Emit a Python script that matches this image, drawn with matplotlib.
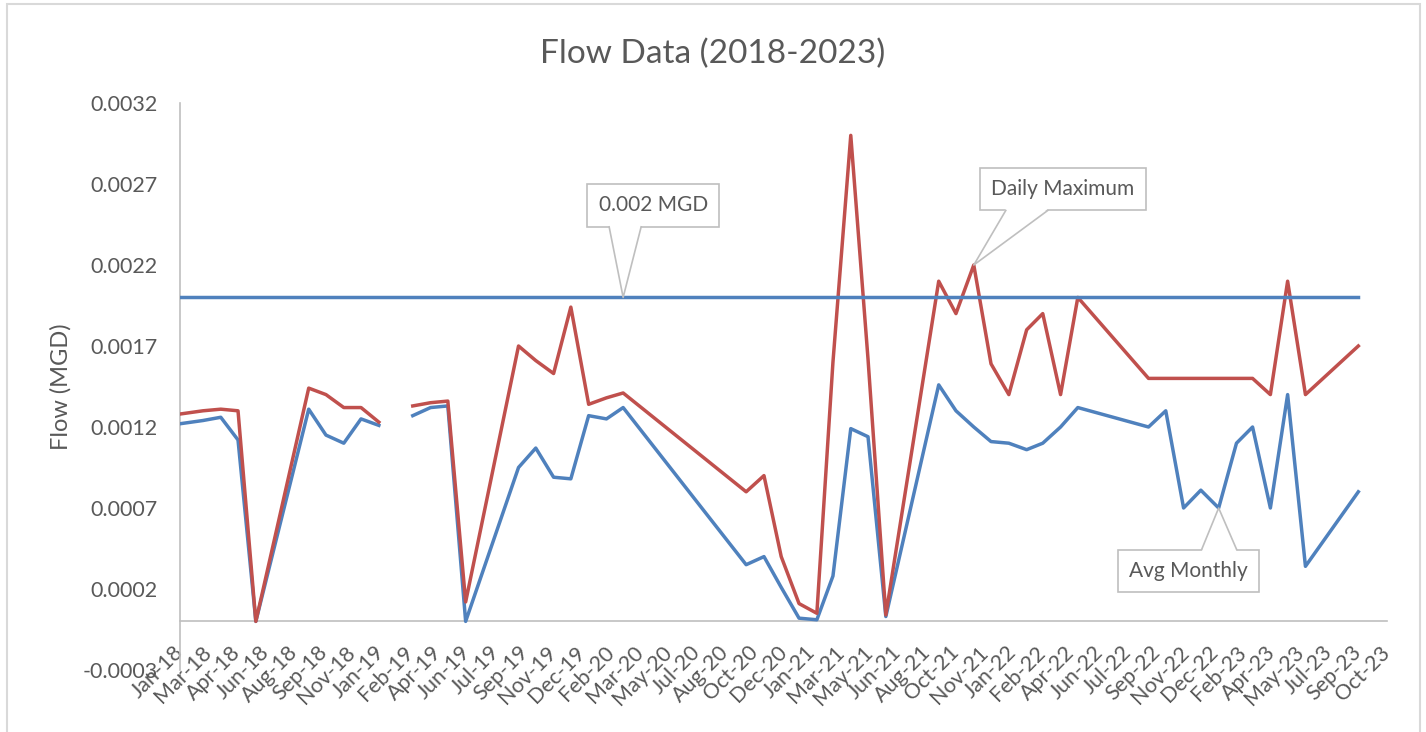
import matplotlib
matplotlib.use("Agg")
import matplotlib.pyplot as plt
import matplotlib.dates as mdates
from matplotlib.patches import Rectangle, Polygon
from matplotlib.lines import Line2D
from matplotlib.transforms import IdentityTransform
import numpy as np
import pandas as pd

plt.rcParams['font.family'] = ['Lato', 'DejaVu Sans']
plt.rcParams['axes.unicode_minus'] = False

# sample dates (rows of the flow table)
dates = [
    "2018-01-20", "2018-03-01", "2018-04-01", "2018-05-01", "2018-06-01",
    "2018-09-01", "2018-10-01", "2018-11-01", "2018-12-01", "2019-01-01",
    "2019-02-01", "2019-03-01", "2019-04-01", "2019-05-01", "2019-06-01",
    "2019-09-01", "2019-10-01", "2019-11-01", "2019-12-01", "2020-01-01",
    "2020-02-01", "2020-03-01", "2020-10-01", "2020-11-01", "2020-12-01",
    "2021-01-01", "2021-02-01", "2021-03-01", "2021-04-01", "2021-05-01",
    "2021-06-01", "2021-09-01", "2021-10-01", "2021-11-01", "2021-12-01",
    "2022-01-01", "2022-02-01", "2022-03-01", "2022-04-01", "2022-05-01",
    "2022-09-01", "2022-10-01", "2022-11-01", "2022-12-01", "2023-01-01",
    "2023-02-01", "2023-03-01", "2023-04-01", "2023-05-01", "2023-06-01",
    "2023-09-01",
]

avg_monthly = [
    0.00122, 0.00124, 0.00126, 0.00112, 0.0,
    0.00131, 0.00115, 0.00110, 0.00125, 0.00121,
    np.nan, 0.00127, 0.00132, 0.00133, 0.0,
    0.00095, 0.00107, 0.00089, 0.00088, 0.00127,
    0.00125, 0.00132, 0.00035, 0.00040, 0.00021,
    0.00002, 0.00001, 0.00028, 0.00119, 0.00114,
    0.00003, 0.00146, 0.00130, 0.00120, 0.00111,
    0.00110, 0.00106, 0.00110, 0.00120, 0.00132,
    0.00120, 0.00130, 0.00070, 0.00081, 0.00070,
    0.00110, 0.00120, 0.00070, 0.00140, 0.00034,
    0.00080,
]

daily_max = [
    0.00128, 0.00130, 0.00131, 0.00130, 0.0,
    0.00144, 0.00140, 0.00132, 0.00132, 0.00123,
    np.nan, 0.00133, 0.00135, 0.00136, 0.00012,
    0.00170, 0.00161, 0.00153, 0.00194, 0.00134,
    0.00138, 0.00141, 0.00080, 0.00090, 0.00040,
    0.00011, 0.00005, 0.00160, 0.00300, 0.00162,
    0.00004, 0.00210, 0.00190, 0.00220, 0.00159,
    0.00140, 0.00180, 0.00190, 0.00140, 0.00200,
    0.00150, 0.00150, 0.00150, 0.00150, 0.00150,
    0.00150, 0.00150, 0.00140, 0.00210, 0.00140,
    0.00170,
]

permit_limit = 0.002
limit_series = [permit_limit] * len(dates)

x = pd.to_datetime(dates)

BLUE = '#4F81BD'
RED = '#C0504D'
GREY_TXT = '#595959'
GREY_LINE = '#BFBFBF'

fig = plt.figure(figsize=(14.26, 7.32), dpi=100)
ax = fig.add_axes([0.1262, 0.0847, 0.8465, 0.7746])

ax.plot(x, avg_monthly, color=BLUE, lw=2.5, solid_joinstyle='round', zorder=3)
ax.plot(x, daily_max, color=RED, lw=2.5, solid_joinstyle='round', zorder=4)
ax.plot(x, limit_series, color=BLUE, lw=2.5, solid_joinstyle='round', zorder=5)

# axes ranges / ticks (date axis, 50 day major unit like the excel chart)
x0 = mdates.date2num(x[0])
xticks = np.arange(x0, x0 + 2101, 50)
ax.set_xlim(xticks[0], xticks[-1])
ax.set_xticks(xticks)
ax.xaxis.set_major_formatter(mdates.DateFormatter('%b-%y'))

ax.set_ylim(-0.0003, 0.0032)
yticks = np.arange(-0.0003, 0.00321, 0.0005)
ax.set_yticks(yticks)
ax.set_yticklabels(['{:.4f}'.format(v) for v in yticks])

for s in ['top', 'right']:
    ax.spines[s].set_visible(False)
ax.spines['left'].set_color(GREY_LINE)
ax.spines['left'].set_linewidth(1.2)
ax.spines['bottom'].set_position(('data', 0))
ax.spines['bottom'].set_color(GREY_LINE)
ax.spines['bottom'].set_linewidth(1.2)

ax.tick_params(axis='y', length=0, pad=16, labelsize=15.5, labelcolor=GREY_TXT)
ax.tick_params(axis='x', length=0, pad=20, labelsize=15.5, labelcolor=GREY_TXT)
for lbl in ax.get_xticklabels():
    lbl.set_rotation(45)
    lbl.set_ha('right')
    lbl.set_va('center')
    lbl.set_rotation_mode('anchor')

ax.set_ylabel("Flow (MGD)", fontsize=17, color=GREY_TXT)
ax.yaxis.set_label_coords(-0.0895, 0.5)

fig.text(0.5, 0.927, "Flow Data (2018-2023)", ha='center', va='center',
         fontsize=24, color=GREY_TXT)

# callout labels: (text, x, y, box offset px, wedge base x offsets px)
box = dict(boxstyle='square,pad=0.55', fc='white', ec=GREY_LINE, lw=1.2)
i_lim = dates.index("2020-03-01")
i_max = dates.index("2021-11-01")
i_avg = dates.index("2023-01-01")
callouts = [
    ("0.002 MGD", x[i_lim], limit_series[i_lim], (30, 92), (-14, 18)),
    ("Daily Maximum", x[i_max], daily_max[i_max], (89, 76), (32, 74)),
    ("Avg Monthly", x[i_avg], avg_monthly[i_avg], (-30, -63), (-17, 18)),
]

texts = []
for label, cx, cy, off, base in callouts:
    t = ax.annotate(label, xy=(cx, cy), xytext=off, textcoords='offset pixels',
                    ha='center', va='center', fontsize=15, color=GREY_TXT,
                    bbox=box, zorder=6)
    texts.append(t)

fig.canvas.draw()
for t, (label, cx, cy, off, base) in zip(texts, callouts):
    tip = ax.transData.transform((mdates.date2num(cx), cy))
    ext = t.get_bbox_patch().get_window_extent()
    if off[1] > 0:
        by = ext.y0
        inner = by + 1.5
    else:
        by = ext.y1
        inner = by - 1.5
    bl = (tip[0] + base[0], by)
    br = (tip[0] + base[1], by)
    fill = Polygon([(bl[0], inner), tuple(tip), (br[0], inner)], closed=True,
                   fc='white', ec='none', transform=IdentityTransform(), zorder=7)
    fig.add_artist(fill)
    fig.add_artist(Line2D([bl[0], tip[0], br[0]], [bl[1], tip[1], br[1]],
                          color=GREY_LINE, lw=1.2, transform=IdentityTransform(),
                          zorder=8))

# chart area border
fig.patches.append(Rectangle((7 / 1426, -0.02), 1413 / 1426, 1.02 - 4 / 732,
                             transform=fig.transFigure, fill=False,
                             ec='#D9D9D9', lw=1.5))

fig.savefig("out.png", dpi=100)
